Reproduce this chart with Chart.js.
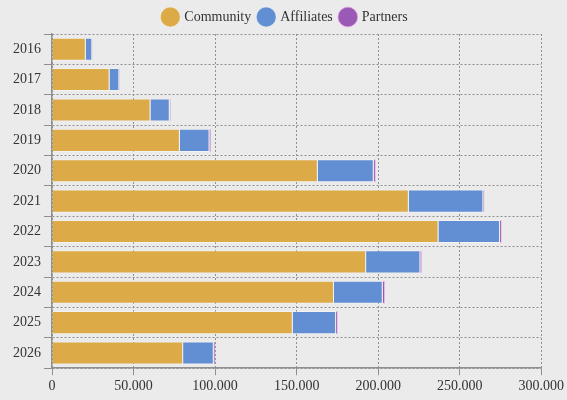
<!DOCTYPE html>
<html>
<head>
<meta charset="utf-8">
<script src="https://cdn.jsdelivr.net/npm/chart.js@4/dist/chart.umd.min.js"></script>
<style>
  html, body { margin: 0; padding: 0; background: #ebebeb; }
  #wrap { width: 567px; height: 400px; }
</style>
</head>
<body>
<div id="wrap"><canvas id="yearChart"></canvas></div>
<script>
// Données
const years = ["2016", "2017", "2018", "2019", "2020", "2021", "2022", "2023", "2024", "2025", "2026"];
const community = [20700, 35300, 60400, 78400, 163000, 218800, 237000, 192600, 172900, 147600, 80400];
const affiliates = [4000, 6000, 11800, 18200, 34300, 45700, 37700, 33300, 29900, 26600, 18800];
const partners = [200, 300, 600, 900, 1300, 700, 1100, 900, 1400, 1100, 1000];
const xTicks = [0, 50000, 100000, 150000, 200000, 250000, 300000];

const gridColor = '#8f8f8f';
const textColor = '#333333';
const serif = '"Liberation Serif", "DejaVu Serif", serif';

const data = {
  labels: years,
  datasets: [
    {
      label: 'Community',
      data: community,
      backgroundColor: '#dcab48',
      borderColor: 'rgba(255,255,255,0.35)',
      borderWidth: 1
    },
    {
      label: 'Affiliates',
      data: affiliates,
      backgroundColor: '#628fd4',
      borderColor: 'rgba(255,255,255,0.35)',
      borderWidth: 1
    },
    {
      label: 'Partners',
      data: partners,
      backgroundColor: '#9b59b6',
      borderColor: 'rgba(230,170,230,0.8)',
      borderWidth: 1
    }
  ]
};

const config = {
  type: 'bar',
  data: data,
  options: {
    indexAxis: 'y',
    responsive: true,
    maintainAspectRatio: false,
    animation: false,
    datasets: {
      bar: { barPercentage: 0.95, categoryPercentage: 0.8 }
    },
    layout: {
      padding: { left: 10, right: 6, top: 2, bottom: 2 }
    },
    plugins: {
      legend: {
        position: 'top',
        labels: {
          usePointStyle: true,
          pointStyle: 'circle',
          color: textColor,
          padding: 8,
          font: { family: serif, size: 14 }
        }
      },
      tooltip: { enabled: false }
    },
    scales: {
      x: {
        stacked: true,
        min: 0,
        max: 300000,
        afterBuildTicks: (axis) => {
          axis.ticks = xTicks.map(v => ({ value: v }));
        },
        ticks: {
          color: textColor,
          font: { family: serif, size: 14 },
          callback: (v) => Number(v).toLocaleString('de-DE')
        },
        grid: {
          color: gridColor,
          tickColor: gridColor,
          tickLength: 7
        },
        border: {
          display: true,
          color: gridColor,
          width: 1.5,
          dash: [2, 2]
        }
      },
      y: {
        stacked: true,
        ticks: {
          color: textColor,
          font: { family: serif, size: 14 }
        },
        grid: {
          color: gridColor,
          tickColor: gridColor,
          tickLength: 8
        },
        border: {
          display: true,
          color: gridColor,
          width: 1.5,
          dash: [2, 2]
        }
      }
    }
  }
};

const yearChart = new Chart(document.getElementById('yearChart'), config);
</script>
</body>
</html>
